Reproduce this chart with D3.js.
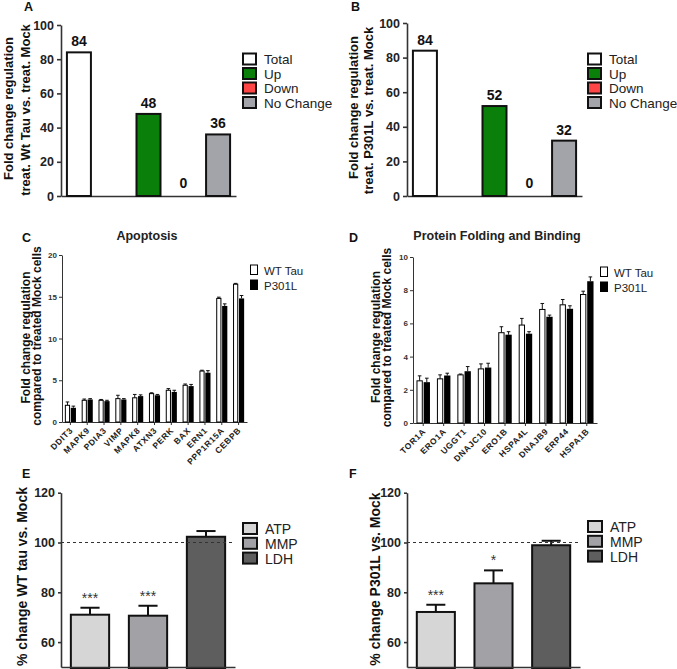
<!DOCTYPE html>
<html><head><meta charset="utf-8">
<script src="https://cdn.jsdelivr.net/npm/d3@7"></script>
<style>
body{margin:0;background:#fff}
svg{display:block}
text{font-family:"Liberation Sans",Arial,sans-serif}
</style>
</head><body>
<svg id="fig" width="677" height="669"></svg>
<script>
// ---------------- DATA ----------------
const regCategories = ["Total", "Up", "Down", "No Change"];
const regSlots = ["Total", " ", "Up", "Down", "No Change"];
const wtTauCounts = [84, 48, 0, 36];
const p301lCounts = [84, 52, 0, 32];
const countTicks = [0, 20, 40, 60, 80, 100];

const apoptosisGenes = ["DDIT3","MAPK9","PDIA3","VIMP","MAPK8","ATXN3","PERK","BAX","ERN1","PPP1R15A","CEBPB"];
const apoptosisWT      = [2.0, 2.6, 2.6, 2.8, 2.9, 3.4, 3.8, 4.4, 6.1, 14.8, 16.5];
const apoptosisWTErr   = [0.4, 0.15, 0.1, 0.4, 0.4, 0.1, 0.2, 0.15, 0.1, 0.15, 0.1];
const apoptosisP301L   = [1.7, 2.7, 2.5, 2.7, 3.1, 3.2, 3.6, 4.3, 5.9, 13.9, 14.8];
const apoptosisP301LErr= [0.2, 0.1, 0.1, 0.1, 0.15, 0.1, 0.2, 0.2, 0.25, 0.25, 0.35];
const apoptosisTicks = [0, 5, 10, 15, 20];

const foldingGenes = ["TOR1A","ERO1A","UGGT1","DNAJC10","ERO1B","HSPA4L","DNAJB9","ERP44","HSPA1B"];
const foldingWT       = [2.54, 2.66, 2.9, 3.26, 5.44, 5.9, 6.84, 7.12, 7.74];
const foldingWTErr    = [0.3, 0.24, 0.05, 0.3, 0.36, 0.4, 0.36, 0.32, 0.2];
const foldingP301L    = [2.46, 2.86, 3.12, 3.34, 5.32, 5.38, 6.4, 6.88, 8.54];
const foldingP301LErr = [0.24, 0.14, 0.28, 0.26, 0.18, 0.12, 0.1, 0.18, 0.26];
const foldingTicks = [0, 2, 4, 6, 8, 10];

const assayCategories = ["ATP", "MMP", "LDH"];
const wtTauAssay    = [71.0, 70.6, 102.3];
const wtTauAssayErr = [2.8, 4.0, 2.3];
const wtTauStars    = ["***", "***", ""];
const p301lAssay    = [72.1, 83.6, 98.9];
const p301lAssayErr = [2.9, 5.2, 1.8];
const p301lStars    = ["***", "*", ""];
const assayTicks = [60, 80, 100, 120];

// ---------------- STYLE ----------------
const regColors = {"Total":"#ffffff","Up":"#0a7f0a","Down":"#ff4646","No Change":"#a3a3aa"};
const assayColors = {"ATP":"#d6d6d6","MMP":"#a2a2a6","LDH":"#5e5e5e"};
const AX = "#333";

const svg = d3.select("#fig");

function panelLabel(t, x, y) {
  svg.append("text").attr("x", x).attr("y", y).attr("font-size", 12.5)
    .attr("font-weight", "bold").attr("fill", "#111").text(t);
}
function yLabel(lines, xs, yc, size) {
  lines.forEach((l, i) => {
    svg.append("text").attr("transform", `translate(${xs[i]},${yc[i]}) rotate(-90)`)
      .attr("text-anchor", "middle").attr("font-size", size).attr("font-weight", "bold")
      .attr("fill", "#111").text(l);
  });
}

// ---------- Panels A & B ----------
function countPanel(o) {
  const x = d3.scaleBand().domain(regSlots).range([o.x0, o.x1]).paddingInner(0.31).paddingOuter(0.17);
  const y = d3.scaleLinear().domain([0, 100]).range([o.yb, o.yt]);
  const g = svg.append("g");
  const ya = d3.axisLeft(y).tickValues(countTicks).tickSize(4).tickSizeOuter(0).tickPadding(3);
  const ag = g.append("g").attr("transform", `translate(${o.x0},0)`).call(ya);
  ag.select(".domain").attr("stroke", AX).attr("stroke-width", 1.6);
  ag.selectAll(".tick line").attr("stroke", AX).attr("stroke-width", 1.6);
  ag.selectAll(".tick text").attr("font-size", 12.5).attr("font-weight", "bold").attr("fill", "#222")
    .attr("font-family", '"Liberation Sans",Arial,sans-serif');
  const xa = d3.axisBottom(x).tickSize(0).tickFormat("").tickSizeOuter(0);
  const xg = g.append("g").attr("transform", `translate(0,${o.yb})`).call(xa);
  xg.select(".domain").attr("stroke", AX).attr("stroke-width", 1.6);

  const data = regCategories.map((c, i) => ({c, v: o.values[i]}));
  g.selectAll("rect.bar").data(data).enter().append("rect")
    .attr("x", d => x(d.c)).attr("width", x.bandwidth())
    .attr("y", d => y(d.v)).attr("height", d => y(0) - y(d.v))
    .attr("fill", d => regColors[d.c]).attr("stroke", "#111").attr("stroke-width", d => d.v > 0 ? 2 : 0);
  g.selectAll("text.val").data(data).enter().append("text")
    .attr("x", d => x(d.c) + x.bandwidth() / 2).attr("y", d => y(d.v) - (d.v > 0 ? 6 : 8))
    .attr("text-anchor", "middle").attr("font-size", 14).attr("font-weight", "bold").attr("fill", "#111")
    .text(d => d.v);
  // legend
  regCategories.forEach((c, i) => {
    const cy = o.legY + i * 14.5;
    svg.append("rect").attr("x", o.legX).attr("y", cy - 5.5).attr("width", 13).attr("height", 11)
      .attr("fill", regColors[c]).attr("stroke", "#111").attr("stroke-width", 2);
    svg.append("text").attr("x", o.legX + 21).attr("y", cy + 5).attr("font-size", 13.5)
      .attr("fill", "#222").text(c);
  });
}
countPanel({x0: 61, x1: 236, yb: 196, yt: 25, values: wtTauCounts, legX: 243, legY: 59});
countPanel({x0: 407, x1: 582, yb: 196, yt: 23, values: p301lCounts, legX: 588, legY: 59});
panelLabel("A", 24, 11); panelLabel("B", 351, 11);
yLabel(["Fold change regulation", "treat. Wt Tau vs. treat. Mock"], [13, 29.5], [108.5, 110], 13);
yLabel(["Fold change regulation", "treat. P301L vs. treat. Mock"], [357.5, 373], [107.5, 110.5], 13);

// ---------- Panels C & D ----------
function genePanel(o) {
  const x = d3.scaleBand().domain(o.genes).range([o.x0, o.x1]).paddingInner(0.34).paddingOuter(0.17);
  const xs = d3.scaleBand().domain(["wt", "mut"]).range([0, x.bandwidth()]).paddingInner(0.12);
  const y = d3.scaleLinear().domain([0, o.ymax]).range([o.yb, o.yt]);
  const g = svg.append("g");
  const ya = d3.axisLeft(y).tickValues(o.ticks).tickSize(3).tickSizeOuter(0).tickPadding(2);
  const ag = g.append("g").attr("transform", `translate(${o.x0},0)`).call(ya);
  ag.select(".domain").attr("stroke", AX).attr("stroke-width", 1);
  ag.selectAll(".tick line").attr("stroke", AX);
  ag.selectAll(".tick text").attr("font-size", 8).attr("font-weight", "bold").attr("fill", "#333")
    .attr("font-family", '"Liberation Sans",Arial,sans-serif');
  const xa = d3.axisBottom(x).tickSize(3).tickSizeOuter(0).tickFormat("");
  const xg = g.append("g").attr("transform", `translate(0,${o.yb})`).call(xa);
  xg.select(".domain").attr("stroke", AX).attr("stroke-width", 1);
  xg.selectAll(".tick line").attr("stroke", AX);
  // rotated labels
  g.selectAll("text.xl").data(o.genes).enter().append("text")
    .attr("transform", d => `translate(${x(d) + x.bandwidth() / 2 + 3},${o.yb + 9}) rotate(-45)`)
    .attr("text-anchor", "end").attr("font-size", 8.5).attr("font-weight", "bold")
    .attr("letter-spacing", 0.6).attr("fill", "#222").text(d => d);

  const data = [];
  o.genes.forEach((gname, i) => {
    data.push({g: gname, s: "wt", v: o.wt[i], e: o.wtErr[i]});
    data.push({g: gname, s: "mut", v: o.mut[i], e: o.mutErr[i]});
  });
  // error bars (upward only)
  data.forEach(d => {
    const cx = x(d.g) + xs(d.s) + xs.bandwidth() / 2;
    g.append("line").attr("x1", cx).attr("x2", cx).attr("y1", y(d.v)).attr("y2", y(d.v + d.e))
      .attr("stroke", "#111").attr("stroke-width", 1);
    g.append("line").attr("x1", cx - 1.8).attr("x2", cx + 1.8).attr("y1", y(d.v + d.e)).attr("y2", y(d.v + d.e))
      .attr("stroke", "#111").attr("stroke-width", 1);
  });
  g.selectAll("rect.bar").data(data).enter().append("rect")
    .attr("x", d => x(d.g) + xs(d.s) + (d.s === "wt" ? 0.5 : 0))
    .attr("width", d => xs.bandwidth() - (d.s === "wt" ? 1 : 0))
    .attr("y", d => y(d.v)).attr("height", d => y(0) - y(d.v))
    .attr("fill", d => d.s === "wt" ? "#fff" : "#000")
    .attr("stroke", "#000").attr("stroke-width", d => d.s === "wt" ? 1 : 0);
  // title
  svg.append("text").attr("x", o.titleX).attr("y", o.titleY).attr("text-anchor", "middle")
    .attr("font-size", 12.5).attr("font-weight", "bold").attr("fill", "#222").text(o.title);
  // legend
  [["WT Tau", "#fff"], ["P301L", "#000"]].forEach((L, i) => {
    const ty = o.legY + i * 15;
    svg.append("rect").attr("x", o.legX + 0.5).attr("y", ty - 9.5).attr("width", 7).attr("height", 9.5)
      .attr("fill", L[1]).attr("stroke", "#000").attr("stroke-width", 1);
    svg.append("text").attr("x", o.legX + 14).attr("y", ty).attr("font-size", 11.5).attr("fill", "#222").text(L[0]);
  });
}
genePanel({genes: apoptosisGenes, wt: apoptosisWT, wtErr: apoptosisWTErr, mut: apoptosisP301L, mutErr: apoptosisP301LErr,
  ticks: apoptosisTicks, ymax: 20, x0: 62, x1: 247, yb: 422, yt: 255,
  title: "Apoptosis", titleX: 147, titleY: 239.5, legX: 250, legY: 274.5});
genePanel({genes: foldingGenes, wt: foldingWT, wtErr: foldingWTErr, mut: foldingP301L, mutErr: foldingP301LErr,
  ticks: foldingTicks, ymax: 10, x0: 413, x1: 597, yb: 423, yt: 257,
  title: "Protein Folding and Binding", titleX: 497, titleY: 240, legX: 600, legY: 276.5});
panelLabel("C", 22, 242); panelLabel("D", 349, 242);
yLabel(["Fold change regulation", "compared to treated Mock cells"], [30, 41], [337.5, 336], 12);
yLabel(["Fold change regulation", "compared to treated Mock cells"], [380, 391], [337, 337.5], 12);

// ---------- Panels E & F ----------
function assayPanel(o) {
  const x = d3.scaleBand().domain(assayCategories).range([o.x0, o.x1]).paddingInner(0.34).paddingOuter(0.17);
  const y = d3.scaleLinear().domain([50, 120]).range([o.yb, o.yt]);
  const g = svg.append("g");
  const data = assayCategories.map((c, i) => ({c, v: o.values[i], e: o.errs[i], s: o.stars[i]}));
  // error bars
  data.forEach(d => {
    const cx = x(d.c) + x.bandwidth() / 2;
    g.append("line").attr("x1", cx).attr("x2", cx).attr("y1", y(d.v)).attr("y2", y(d.v + d.e))
      .attr("stroke", "#111").attr("stroke-width", 2);
    g.append("line").attr("x1", cx - x.bandwidth() / 4).attr("x2", cx + x.bandwidth() / 4)
      .attr("y1", y(d.v + d.e)).attr("y2", y(d.v + d.e)).attr("stroke", "#111").attr("stroke-width", 2);
  });
  g.selectAll("rect.bar").data(data).enter().append("rect")
    .attr("x", d => x(d.c)).attr("width", x.bandwidth())
    .attr("y", d => y(d.v)).attr("height", d => y(50) - y(d.v) + 2)
    .attr("fill", d => assayColors[d.c]).attr("stroke", "#111").attr("stroke-width", 2);
  // dashed 100 line
  g.append("line").attr("x1", o.x0).attr("x2", o.x1 - 2).attr("y1", y(100)).attr("y2", y(100))
    .attr("stroke", "#333").attr("stroke-width", 1.2).attr("stroke-dasharray", "3,3");
  g.selectAll("text.star").data(data).enter().append("text")
    .attr("x", d => x(d.c) + x.bandwidth() / 2).attr("y", d => y(d.v + d.e) - 5)
    .attr("text-anchor", "middle").attr("font-size", 14).attr("fill", "#333").text(d => d.s);
  const ya = d3.axisLeft(y).tickValues(assayTicks).tickSize(3).tickSizeOuter(0).tickPadding(3);
  const ag = g.append("g").attr("transform", `translate(${o.x0},0)`).call(ya);
  ag.select(".domain").attr("stroke", AX).attr("stroke-width", 1.6);
  ag.selectAll(".tick line").attr("stroke", AX).attr("stroke-width", 1.6);
  ag.selectAll(".tick text").attr("font-size", 12.5).attr("font-weight", "bold").attr("fill", "#222")
    .attr("font-family", '"Liberation Sans",Arial,sans-serif');
  const xa = d3.axisBottom(x).tickSize(0).tickFormat("").tickSizeOuter(0);
  const xg = g.append("g").attr("transform", `translate(0,${o.yb})`).call(xa);
  xg.select(".domain").attr("stroke", AX).attr("stroke-width", 1.6);
  // legend
  assayCategories.forEach((c, i) => {
    const cy = o.legY + i * 14.8;
    svg.append("rect").attr("x", o.legX).attr("y", cy - 5.5).attr("width", 14).attr("height", 11)
      .attr("fill", assayColors[c]).attr("stroke", "#111").attr("stroke-width", 2);
    svg.append("text").attr("x", o.legX + 22).attr("y", cy + 5.5).attr("font-size", 14)
      .attr("fill", "#222").text(c);
  });
}
assayPanel({x0: 61, x1: 235, yb: 667, yt: 492.7, values: wtTauAssay, errs: wtTauAssayErr, stars: wtTauStars, legX: 243, legY: 528.5});
assayPanel({x0: 407, x1: 580, yb: 667, yt: 492.7, values: p301lAssay, errs: p301lAssayErr, stars: p301lStars, legX: 588, legY: 526.5});
panelLabel("E", 22, 478); panelLabel("F", 349, 478);
yLabel(["% change WT tau vs. Mock"], [27], [576.5], 14);
yLabel(["% change P301L vs. Mock"], [380], [579], 14);
</script>
</body></html>
